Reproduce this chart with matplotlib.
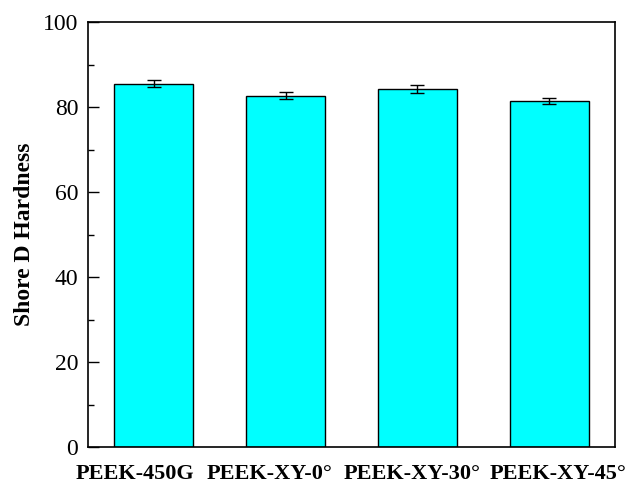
import matplotlib.pyplot as plt
import numpy as np

# Shore D hardness of the PEEK samples
samples = ['PEEK-450G', 'PEEK-XY-0°', 'PEEK-XY-30°', 'PEEK-XY-45°']
hardness = [85.5, 82.7, 84.3, 81.4]
hardness_err = [0.8, 0.8, 0.9, 0.7]

plt.rcParams['font.family'] = 'Liberation Serif'

fig = plt.figure(figsize=(6.3, 4.84), dpi=100)
ax = fig.add_axes([88/630, 37/484, 527/630, 425/484])

x = np.arange(len(samples))
ax.bar(x, hardness, width=0.6, color='#00FFFF', edgecolor='black', linewidth=1.0,
       yerr=hardness_err, capsize=5, error_kw=dict(ecolor='black', elinewidth=1.0, capthick=1.0))

ax.set_xlim(-0.5, 3.5)
ax.set_ylim(0, 100)
ax.set_xticks(x)
ax.set_xticklabels([])
# category names drawn by hand, nudged sideways so the long ones don't collide
shifts = [-13.5, -11.5, -4, 6.5]
for xi, name, dx in zip(x, samples, shifts):
    ax.annotate(name, xy=(xi, 0), xycoords=('data', 'axes fraction'),
                xytext=(dx, -12), textcoords='offset points',
                ha='center', va='top', fontsize=16, fontweight='bold')
ax.set_yticks(np.arange(0, 101, 20))
ax.set_yticks(np.arange(10, 100, 20), minor=True)
ax.tick_params(axis='y', which='major', direction='in', length=8, width=1, labelsize=17, pad=7)
ax.tick_params(axis='y', which='minor', direction='in', length=4, width=1)
ax.tick_params(axis='x', length=0)
ax.set_ylabel('Shore D Hardness', fontsize=17, fontweight='bold', labelpad=6)
for s in ax.spines.values():
    s.set_linewidth(1.2)

fig.savefig('out.png', dpi=100)
